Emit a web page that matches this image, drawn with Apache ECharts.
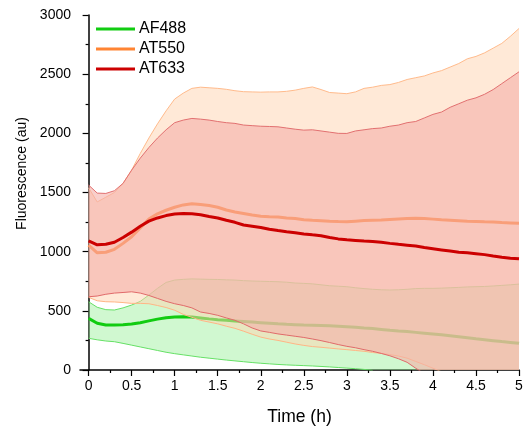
<!DOCTYPE html>
<html lang="en">
<head>
<meta charset="utf-8">
<title>Fluorescence vs time</title>
<script src="https://cdn.jsdelivr.net/npm/echarts@6/dist/echarts.min.js"></script>
<style>
  html, body { margin: 0; padding: 0; background: #fff; }
  #chart { width: 524px; height: 428px; }
</style>
</head>
<body>
<div id="chart"></div>
<script>
// time (h)
var hours = [0, 0.1, 0.2, 0.3, 0.4, 0.5, 0.6, 0.7, 0.8, 0.9,
             1, 1.1, 1.2, 1.3, 1.4, 1.5, 1.6, 1.7, 1.8, 1.9,
             2, 2.1, 2.2, 2.3, 2.4, 2.5, 2.6, 2.7, 2.8, 2.9,
             3, 3.1, 3.2, 3.3, 3.4, 3.5, 3.6, 3.7, 3.8, 3.9,
             4, 4.1, 4.2, 4.3, 4.4, 4.5, 4.6, 4.7, 4.8, 4.9, 5];

// AF488
var af488Mean = [436, 395, 380, 380, 382, 388, 400, 415, 430, 442,
                 448, 450, 448, 440, 432, 425, 420, 415, 410, 405,
                 400, 395, 390, 386, 383, 380, 378, 376, 373, 370,
                 366, 361, 355, 350, 343, 336, 330, 325, 318, 311,
                 304, 297, 289, 281, 273, 264, 256, 248, 240, 233, 226];
var af488Upper = [577, 530, 510, 507, 525, 549, 580, 633, 690, 740,
                  760, 766, 770, 768, 766, 765, 762, 760, 755, 752,
                  750, 748, 746, 742, 735, 732, 728, 720, 712, 708,
                  704, 695, 688, 682, 678, 676, 678, 682, 688, 690,
                  690, 692, 695, 698, 702, 704, 706, 710, 715, 720, 726];
var af488Lower = [268, 255, 245, 239, 225, 210, 195, 180, 165, 150,
                  138, 128, 118, 108, 100, 92, 84, 77, 70, 63,
                  57, 52, 47, 43, 40, 37, 34, 30, 26, 21,
                  16, 11, 5, -4, null, null, null, null, null, null,
                  null, null, null, null, null, null, null, null, null, null, null];

// AT550
var at550Mean = [1056, 990, 995, 1020, 1070, 1126, 1200, 1275, 1320, 1350,
                 1375, 1395, 1405, 1398, 1390, 1375, 1352, 1335, 1323, 1310,
                 1300, 1295, 1292, 1285, 1280, 1270, 1265, 1262, 1258, 1255,
                 1253, 1258, 1263, 1266, 1267, 1272, 1276, 1280, 1282, 1280,
                 1275, 1270, 1266, 1262, 1258, 1255, 1252, 1250, 1246, 1243, 1240];
var at550Upper = [1540, 1420, 1460, 1500, 1577, 1690, 1830, 1960, 2080, 2190,
                  2290, 2340, 2380, 2390, 2385, 2380, 2372, 2360, 2352, 2350,
                  2348, 2350, 2350, 2355, 2365, 2380, 2392, 2370, 2345, 2340,
                  2335, 2350, 2380, 2390, 2405, 2412, 2430, 2455, 2470, 2485,
                  2510, 2530, 2560, 2590, 2630, 2650, 2680, 2720, 2760, 2820, 2886];
var at550Lower = [614, 585, 577, 575, 570, 563, 563, 560, 545, 528,
                  505, 470, 445, 420, 405, 390, 370, 352, 328, 302,
                  278, 262, 250, 235, 220, 208, 198, 192, 185, 178,
                  172, 165, 158, 148, 140, 130, 118, 100, 72, 45,
                  15, -15, null, null, null, null, null, null, null, null, null];

// AT633
var at633Mean = [1092, 1058, 1062, 1080, 1120, 1165, 1215, 1258, 1285, 1305,
                 1318, 1322, 1320, 1312, 1298, 1285, 1265, 1248, 1225, 1215,
                 1205, 1190, 1178, 1168, 1160, 1150, 1142, 1135, 1120, 1108,
                 1100, 1095, 1090, 1086, 1080, 1070, 1062, 1055, 1048, 1035,
                 1025, 1015, 1005, 995, 990, 983, 975, 963, 952, 945, 940];
var at633Upper = [1563, 1495, 1492, 1515, 1577, 1689, 1790, 1880, 1960, 2030,
                  2090, 2112, 2126, 2120, 2112, 2100, 2090, 2084, 2070, 2065,
                  2060, 2058, 2055, 2045, 2035, 2027, 2030, 2020, 2010, 2000,
                  1999, 2020, 2030, 2040, 2045, 2060, 2070, 2090, 2100, 2130,
                  2160, 2180, 2220, 2250, 2280, 2300, 2330, 2370, 2420, 2470, 2520];
var at633Lower = [619, 625, 640, 650, 655, 661, 650, 630, 605, 580,
                  560, 545, 525, 490, 478, 462, 440, 420, 390, 355,
                  330, 318, 305, 295, 285, 275, 262, 248, 232, 215,
                  200, 188, 172, 158, 140, 120, 95, 65, 15, -30,
                  null, null, null, null, null, null, null, null, null, null, null];

var xTicks = [0, 0.5, 1, 1.5, 2, 2.5, 3, 3.5, 4, 4.5, 5];
var xMinorTicks = [0.25, 0.75, 1.25, 1.75, 2.25, 2.75, 3.25, 3.75, 4.25, 4.75];

var font = 'Liberation Sans, Arial, sans-serif';

function pairs(vals) {
    var out = [];
    for (var i = 0; i < hours.length; i++) {
        out.push([hours[i], vals[i]]);
    }
    return out;
}

// filled band between lower and upper, drawn as one polygon through the axes
function bandFill(lower, upper, fill, z) {
    return {
        type: 'custom', silent: true, clip: true, z: z,
        data: [[0, 0]],
        renderItem: function (params, api) {
            var pts = [];
            var i;
            for (i = 0; i < hours.length; i++) {
                pts.push(api.coord([hours[i], upper[i]]));
            }
            for (i = hours.length - 1; i >= 0; i--) {
                var lo = lower[i] == null ? 0 : lower[i];
                pts.push(api.coord([hours[i], lo]));
            }
            return {
                type: 'polygon',
                shape: { points: pts },
                style: { fill: fill, stroke: null }
            };
        }
    };
}

function edge(vals, color, z) {
    return {
        type: 'line', symbol: 'none', silent: true, z: z,
        lineStyle: { color: color, width: 1 },
        data: pairs(vals)
    };
}

function meanLine(name, vals, color, z) {
    return {
        name: name, type: 'line', symbol: 'none', color: color, z: z,
        lineStyle: { color: color, width: 3 },
        itemStyle: { color: color },
        data: pairs(vals)
    };
}

var series = [
    bandFill(af488Lower, af488Upper, 'rgba(150,240,150,0.45)', 2),
    edge(af488Upper, '#66e066', 2),
    edge(af488Lower, '#66e066', 2),
    meanLine('AF488', af488Mean, '#11cc11', 2),
    bandFill(at550Lower, at550Upper, 'rgba(255,212,175,0.5)', 3),
    edge(at550Upper, '#ffbb8c', 3),
    edge(at550Lower, '#ffb585', 3),
    meanLine('AT550', at550Mean, '#ff8433', 3),
    bandFill(at633Lower, at633Upper, 'rgba(245,175,168,0.6)', 4),
    edge(at633Upper, '#e27070', 4),
    edge(at633Lower, '#e06a6a', 4),
    meanLine('AT633', at633Mean, '#cc0000', 4)
];

var myChart = echarts.init(document.getElementById('chart'));
var option = {
    animation: false,
    backgroundColor: '#fff',
    textStyle: { fontFamily: font },
    grid: { left: 80, right: 5, top: 15, bottom: 58, outerBoundsMode: 'none' },
    legend: {
        data: ['AF488', 'AT550', 'AT633'],
        orient: 'vertical',
        left: 96, top: 21, padding: 0,
        icon: 'rect',
        itemWidth: 39, itemHeight: 3,
        itemGap: 4,
        textStyle: { fontSize: 16, color: '#000', fontFamily: font, padding: [0, 0, 0, -1] }
    },
    xAxis: [{
        type: 'value', min: -0.1, max: 5,
        name: 'Time (h)', nameLocation: 'middle', nameGap: 38,
        nameTextStyle: { fontSize: 17.5, color: '#000', fontFamily: font },
        axisLine: { show: true, onZero: false, lineStyle: { color: '#000', width: 1.5 } },
        axisTick: { show: true, inside: false, length: 6, customValues: xTicks, lineStyle: { color: '#000', width: 1.2 } },
        axisLabel: { customValues: xTicks, fontSize: 14, color: '#000', margin: 9, fontFamily: font },
        splitLine: { show: false }
    }, {
        type: 'value', min: -0.1, max: 5, position: 'bottom',
        axisLine: { show: false },
        axisTick: { show: true, inside: false, length: 3, customValues: xMinorTicks, lineStyle: { color: '#000', width: 1.2 } },
        axisLabel: { show: false },
        splitLine: { show: false }
    }],
    yAxis: {
        type: 'value', min: 0, max: 3000, interval: 500,
        name: 'Fluorescence (au)', nameLocation: 'middle', nameGap: 42,
        nameTextStyle: { fontSize: 14, color: '#000', fontFamily: font, padding: [0, 0, 0, 38] },
        axisLine: { show: true, lineStyle: { color: '#000', width: 1.5 } },
        axisTick: { show: true, inside: false, length: 6, lineStyle: { color: '#000', width: 1.2 } },
        minorTick: { show: true, splitNumber: 2, length: 3, lineStyle: { color: '#000', width: 1.2 } },
        axisLabel: { fontSize: 14, color: '#000', margin: 9, fontFamily: font,
                     formatter: function (v) { return String(v); } },
        splitLine: { show: false }
    },
    series: series
};
myChart.setOption(option);
</script>
</body>
</html>
